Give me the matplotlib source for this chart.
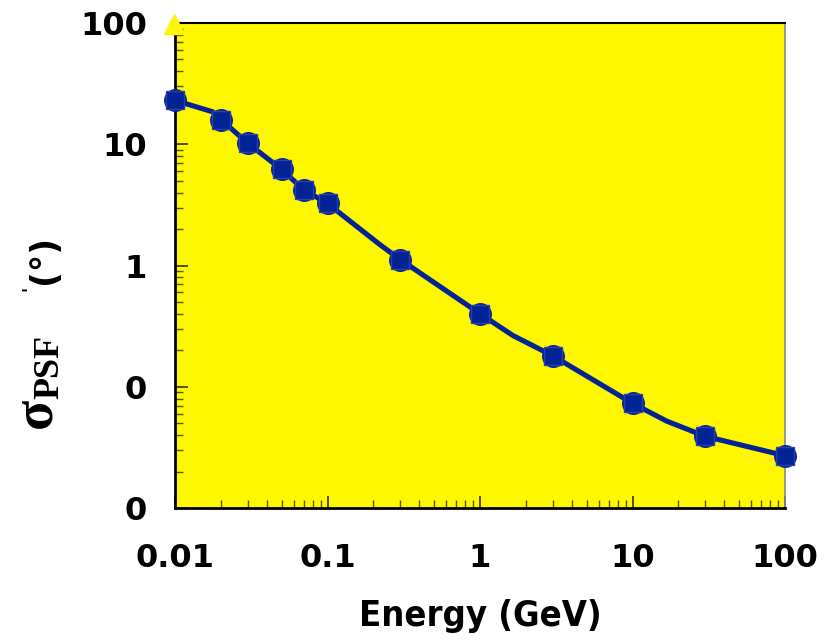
import matplotlib
matplotlib.use("Agg")
import matplotlib.pyplot as plt
from matplotlib.ticker import FixedLocator, FixedFormatter, LogLocator, NullFormatter

# data
energy = [0.01, 0.02, 0.03, 0.05, 0.07, 0.1, 0.3, 1.0, 3.0, 10.0, 30.0, 100.0]
sigma = [23.0, 16.0, 10.2, 6.2, 4.2, 3.25, 1.12, 0.40, 0.18, 0.073, 0.039, 0.027]
line_energy = [0.01, 0.0177, 0.02, 0.03, 0.05, 0.07, 0.1, 0.22, 0.3, 1.0, 1.64, 3.0, 10.0, 16.8, 30.0, 100.0]
line_sigma = [23.0, 18.5, 16.0, 10.2, 6.2, 4.2, 3.25, 1.49, 1.12, 0.40, 0.265, 0.18, 0.073, 0.052, 0.039, 0.027]
ytick_vals = [0.01, 0.1, 1, 10, 100]
ytick_labels = ['0', '0', '1', '10', '100']
xtick_vals = [0.01, 0.1, 1, 10, 100]
xtick_labels = ['0.01', '0.1', '1', '10', '100']

yellow = '#FFF700'
blue = '#022394'

fig = plt.figure(figsize=(8.39, 6.39), dpi=100)
ax = fig.add_axes([175/839, 1-508/639, (785-175)/839, (508-23)/639])
ax.set_facecolor(yellow)
ax.set_xscale('log')
ax.set_yscale('log')
ax.set_xlim(0.01, 100)
ax.set_ylim(0.01, 100)

ax.plot(line_energy, line_sigma, color=blue, lw=3.7, zorder=3, clip_on=False)
ax.plot(energy, sigma, ls='none', marker='o', ms=15.5, color=blue, zorder=4, clip_on=False)
ax.plot(energy, sigma, ls='none', marker='s', ms=13, color=blue, mec='#2a3fb0', mew=1.0, zorder=5, clip_on=False)

# yellow arrow at top of y axis
ax.plot([0.0099], [98], marker='^', ms=14, color=yellow, clip_on=False, zorder=10)

ax.yaxis.set_major_locator(FixedLocator(ytick_vals))
ax.yaxis.set_major_formatter(FixedFormatter(ytick_labels))
ax.xaxis.set_major_locator(FixedLocator(xtick_vals))
ax.xaxis.set_major_formatter(FixedFormatter(xtick_labels))
ax.yaxis.set_minor_locator(LogLocator(base=10, subs=range(2, 10)))
ax.xaxis.set_minor_locator(LogLocator(base=10, subs=range(2, 10)))
ax.xaxis.set_minor_formatter(NullFormatter())
ax.yaxis.set_minor_formatter(NullFormatter())

ax.tick_params(axis='both', which='major', direction='in', length=9, width=1.2,
               color='#333300', labelsize=23)
ax.tick_params(axis='both', which='minor', direction='in', length=6, width=1.0, color='#555500')
ax.tick_params(axis='x', which='both', top=False)
ax.tick_params(axis='y', which='both', right=False)
ax.tick_params(axis='x', which='major', pad=25)
ax.tick_params(axis='y', which='major', pad=20)
for lab in ax.get_xticklabels() + ax.get_yticklabels():
    lab.set_fontweight('bold')
    lab.set_family('DejaVu Sans')

ax.spines['left'].set_linewidth(2.0)
ax.spines['bottom'].set_linewidth(2.0)
ax.spines['top'].set_linewidth(1.5)
ax.spines['right'].set_linewidth(1.2)
ax.spines['right'].set_color('#888888')

fig.text(480/839, 1-616/639, 'Energy (GeV)', ha='center', va='center',
         fontsize=26, fontweight='bold', family='DejaVu Sans', fontstretch='condensed')

# y label pieces
fig.text(36/839, 1-413/639, 'σ', rotation=90, ha='center', va='center',
         fontsize=40, fontweight='bold', family='Liberation Serif')
fig.text(50/839, 1-367/639, 'PSF', rotation=90, ha='center', va='center',
         fontsize=26, fontweight='bold', family='Liberation Serif')
fig.text(44/839, 1-259/639, '(°)', rotation=90, ha='center', va='center',
         fontsize=25, fontweight='bold', family='DejaVu Sans')
fig.text(29/839, 1-288/639, "'", rotation=90, ha='center', va='center',
         fontsize=12, fontweight='bold', family='DejaVu Sans')

fig.savefig('out.png', dpi=100)
